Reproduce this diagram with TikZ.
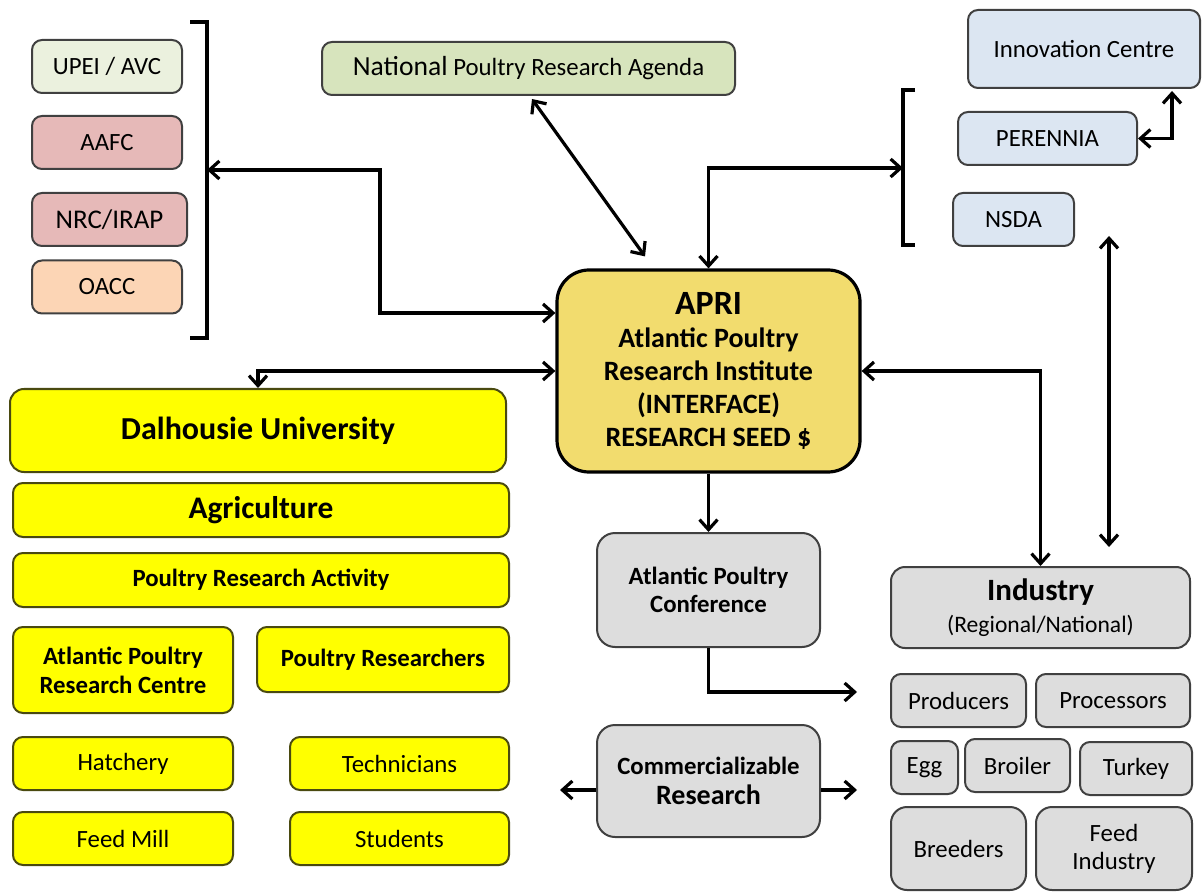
\documentclass[tikz,border=0pt]{standalone}
\usepackage{fontspec}
\setmainfont{Carlito}
\usetikzlibrary{positioning}
\usetikzlibrary{arrows.meta}

\definecolor{upeifill}{HTML}{EBF1DE}
\definecolor{pinkfill}{HTML}{E6B9B8}
\definecolor{peachfill}{HTML}{FCD5B5}
\definecolor{natfill}{HTML}{D7E4BD}
\definecolor{bluefill}{HTML}{DCE6F2}
\definecolor{aprifill}{HTML}{F2DC6E}
\definecolor{yfill}{HTML}{FFFF00}
\definecolor{yline}{HTML}{4A4A10}
\definecolor{greyfill}{HTML}{DDDDDD}
\definecolor{boxline}{HTML}{404040}

\begin{document}
\begin{tikzpicture}[x=0.5pt, y=-0.5pt,
			every node/.style={font=\fontsize{12.4}{14.5}\selectfont, align=center, inner sep=0pt},
			box/.style={draw=boxline, line width=1pt, rounded corners=5pt},
			ybox/.style={box, draw=yline, fill=yfill},
			gbox/.style={box, fill=greyfill},
			bbox/.style={box, fill=bluefill},
			link/.style={draw, line width=1.6pt, -{Straight Barb[length=5pt,width=9pt]}},
			dlink/.style={draw, line width=1.6pt, {Straight Barb[length=5pt,width=9pt]}-{Straight Barb[length=5pt,width=9pt]}}]
			\useasboundingbox (0,0) rectangle (1202,892);
			\node[box, fill=upeifill, minimum width=75pt, minimum height=26.5pt] (upei) at (107,66.5) {UPEI / AVC};
			\node[box, fill=pinkfill, minimum width=75pt, minimum height=26.5pt] (aafc) at (107,142.5) {AAFC};
			\node[box, fill=pinkfill, minimum width=77.5pt, minimum height=26.5pt, font=\fontsize{13.5}{16}\selectfont] (nrc) at (109.5,219.5) {NRC/IRAP};
			\node[box, fill=peachfill, minimum width=75pt, minimum height=26.5pt] (oacc) at (107,287) {OACC};
			\draw[line width=1.6pt] (190,22) -- (207,22) -- (207,338) -- (190,338);
			\coordinate (lbrk) at (207,170);
			\node[box, fill=natfill, minimum width=206.5pt, minimum height=26.5pt] (natl) at (528.5,68.5) {{\fontsize{13.8}{16}\selectfont National} Poultry Research Agenda};
			\node[bbox, minimum width=116pt, minimum height=39pt] (innov) at (1084,49) {Innovation Centre};
			\node[bbox, minimum width=89.5pt, minimum height=26.5pt] (peren) at (1047.5,138.5) {PERENNIA};
			\node[bbox, minimum width=60.5pt, minimum height=26.5pt] (nsda) at (1013.5,219.5) {NSDA};
			\draw[line width=1.6pt] (915,90) -- (903,90) -- (903,245) -- (915,245);
			\coordinate (rbrk) at (903,168);
			\node[draw, line width=1.6pt, rounded corners=16pt, fill=aprifill, minimum width=151.5pt, minimum height=101pt, font=\bfseries\fontsize{14}{16.5}\selectfont] (apri) at (708.5,371) {{\fontsize{17}{20}\selectfont APRI}\\Atlantic Poultry\\Research Institute\\(INTERFACE)\\RESEARCH SEED \$};
			\node[ybox, rounded corners=7pt, minimum width=248pt, minimum height=41.5pt, font=\bfseries\fontsize{16}{19}\selectfont] (dal) at (258,430.5) {Dalhousie University};
			\node[ybox, minimum width=248pt, minimum height=27pt, font=\bfseries\fontsize{15.7}{19}\selectfont] (agri) at (261,510) {Agriculture};
			\node[ybox, minimum width=248pt, minimum height=27pt, font=\bfseries\fontsize{12.4}{14.5}\selectfont] (pra) at (261,580) {Poultry Research Activity};
			\node[ybox, minimum width=110pt, minimum height=43pt, font=\bfseries\fontsize{12.4}{14.5}\selectfont] (aprc) at (123,670) {Atlantic Poultry\\Research Centre};
			\node[ybox, minimum width=126pt, minimum height=32.5pt, font=\bfseries\fontsize{12.4}{14.5}\selectfont] (pres) at (383,659.5) {Poultry Researchers};
			\node[ybox, minimum width=110pt, minimum height=26.5pt] (hatch) at (123,763.5) {Hatchery};
			\node[ybox, minimum width=109.5pt, minimum height=26.5pt] (tech) at (399.5,763.5) {Technicians};
			\node[ybox, minimum width=110pt, minimum height=26.5pt] (feed) at (123,838.5) {Feed Mill};
			\node[ybox, minimum width=109.5pt, minimum height=26.5pt] (stud) at (399.5,838.5) {Students};
			\node[gbox, rounded corners=9pt, minimum width=111.5pt, minimum height=57pt, font=\bfseries\fontsize{12.4}{14}\selectfont] (conf) at (708.5,590) {Atlantic Poultry\\Conference};
			\node[gbox, rounded corners=9pt, minimum width=111.5pt, minimum height=56pt, font=\bfseries\fontsize{12.4}{15}\selectfont] (comm) at (708.5,781) {Commercializable\\{\fontsize{14}{16}\selectfont Research}};
			\node[gbox, rounded corners=7pt, minimum width=149.5pt, minimum height=40.5pt, font=\fontsize{11.8}{16}\selectfont] (indus) at (1040.5,607.5) {{\bfseries\fontsize{15.5}{18}\selectfont Industry}\\(Regional/National)};
			\node[gbox, minimum width=67.5pt, minimum height=26.5pt] (prod) at (958.5,700.5) {Producers};
			\node[gbox, minimum width=77pt, minimum height=26.5pt] (proc) at (1113,700.5) {Processors};
			\node[gbox, minimum width=33.5pt, minimum height=26.5pt] (egg) at (924.5,767.5) {Egg};
			\node[gbox, minimum width=52.5pt, minimum height=26.5pt] (broil) at (1017.5,765.5) {Broiler};
			\node[gbox, minimum width=56pt, minimum height=26.5pt] (turk) at (1136,768.5) {Turkey};
			\node[gbox, rounded corners=8pt, minimum width=67.5pt, minimum height=41.5pt] (breed) at (958.5,848.5) {Breeders};
			\node[gbox, rounded corners=8pt, minimum width=78pt, minimum height=41.5pt, font=\fontsize{12.4}{14}\selectfont] (feedind) at (1114,848.5) {Feed\\Industry};
			\coordinate (nsdalink) at (1109,236);
			\coordinate (confend) at (857,692);
			\coordinate (commL) at (560,790);
			\coordinate (commR) at (857,790);
			\path[dlink] (lbrk) -- (380,170) |- ([yshift=29pt]apri.west);
			\path[dlink] ([xshift=1.75pt,yshift=-1.5pt]natl.south) -- ([xshift=-31.75pt,yshift=6pt]apri.north);
			\path[dlink] (apri.north) |- (rbrk);
			\path[dlink] (peren.east) -| ([xshift=44pt,yshift=-1pt]innov.south);
			\path[dlink] (nsdalink) -- ([xshift=34.25pt,yshift=9.5pt]indus.north);
			\path[dlink] (apri.east) -| (indus.north);
			\path[dlink] (apri.west) -| (dal.north);
			\path[link] (apri.south) -- (conf.north);
			\path[link] (conf.south) |- (confend);
			\path[link] ([yshift=-4.5pt]comm.west) -- (commL);
			\path[link] ([yshift=-4.5pt]comm.east) -- (commR);
\end{tikzpicture}
\end{document}
